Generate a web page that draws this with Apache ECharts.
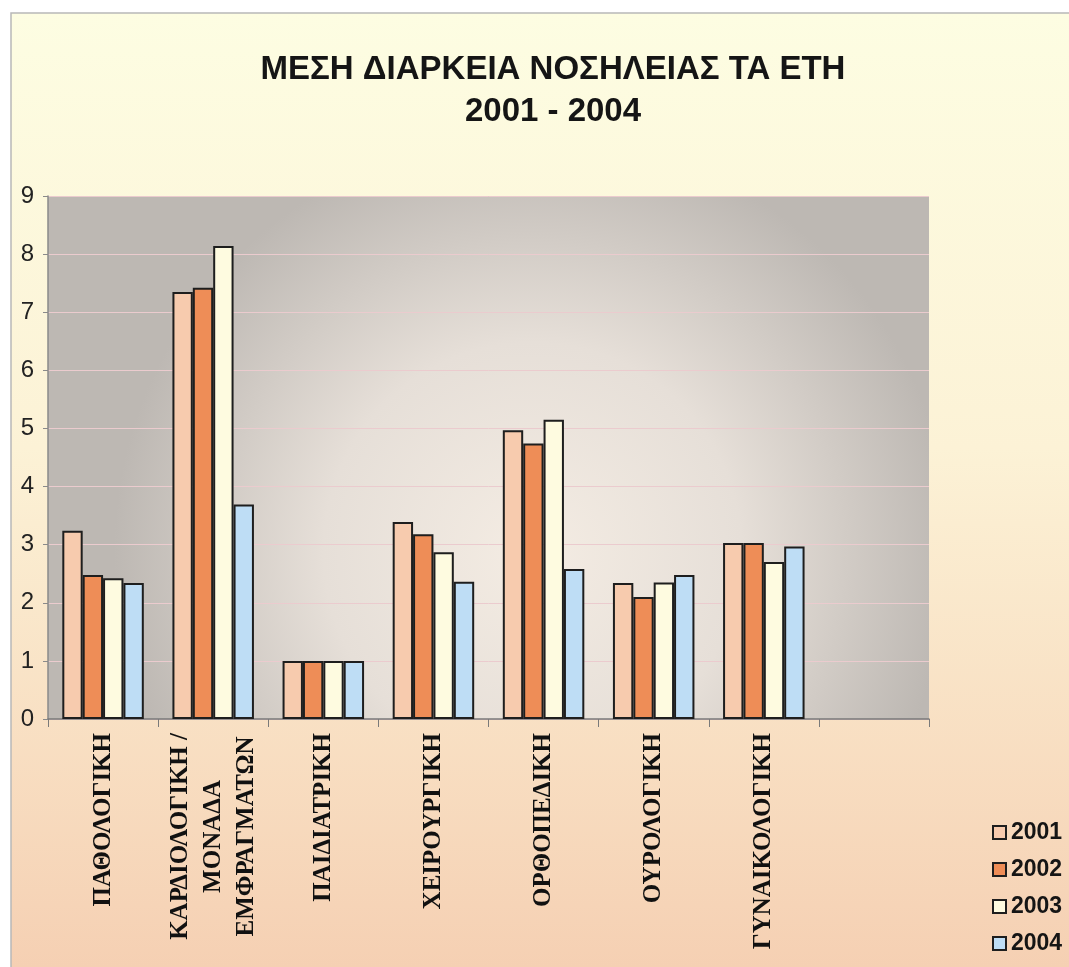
<!DOCTYPE html>
<html>
<head>
<meta charset="utf-8">
<script src="https://cdn.jsdelivr.net/npm/echarts@6/dist/echarts.min.js"></script>
<style>
  html, body { margin: 0; padding: 0; background: #fff; }
  #chart { width: 1069px; height: 967px; }
</style>
</head>
<body>
<div id="chart"></div>
<script>
const categories = ['ΠΑΘΟΛΟΓΙΚΗ', 'ΚΑΡΔΙΟΛΟΓΙΚΗ /\nΜΟΝΑΔΑ\nΕΜΦΡΑΓΜΑΤΩΝ', 'ΠΑΙΔΙΑΤΡΙΚΗ', 'ΧΕΙΡΟΥΡΓΙΚΗ', 'ΟΡΘΟΠΕΔΙΚΗ', 'ΟΥΡΟΛΟΓΙΚΗ', 'ΓΥΝΑΙΚΟΛΟΓΙΚΗ', '']
const years = ['2001', '2002', '2003', '2004']
const values2001 = [3.24, 7.35, 1.0, 3.39, 4.97, 2.34, 3.03, '-']
const values2002 = [2.48, 7.42, 1.0, 3.18, 4.74, 2.10, 3.03, '-']
const values2003 = [2.42, 8.14, 1.0, 2.87, 5.15, 2.35, 2.70, '-']
const values2004 = [2.34, 3.69, 1.0, 2.36, 2.58, 2.48, 2.97, '-']
const yTicks = [0, 1, 2, 3, 4, 5, 6, 7, 8, 9]

const colors = ['#F7CBAE', '#EE8D57', '#FEFBE0', '#BEDDF5']
const seriesValues = [values2001, values2002, values2003, values2004]

const chart = echarts.init(document.getElementById('chart'))

// each line of a category label gets centred inside the rotated block
function labelFormatter(value) {
  return value.split('\n').map(l => '{c|' + l + '}').join('\n')
}

chart.setOption({
  animation: false,
  graphic: [{
    type: 'rect',
    z: -10,
    shape: { x: 11, y: 13, width: 1069, height: 967 },
    style: {
      fill: new echarts.graphic.LinearGradient(0, 0, 0, 1, [
        { offset: 0, color: '#FDFDE2' },
        { offset: 0.45, color: '#FCF2D6' },
        { offset: 1, color: '#F5CFB2' }
      ]),
      stroke: '#B8B8B8',
      lineWidth: 1.5
    }
  }],
  title: {
    text: 'ΜΕΣΗ ΔΙΑΡΚΕΙΑ ΝΟΣΗΛΕΙΑΣ ΤΑ ΕΤΗ\n2001 - 2004',
    left: 548,
    textAlign: 'center',
    top: 44,
    textStyle: {
      fontFamily: 'Liberation Sans',
      fontSize: 33,
      fontWeight: 'bold',
      color: '#151515',
      lineHeight: 42
    }
  },
  legend: {
    orient: 'vertical',
    left: 987,
    top: 816,
    itemWidth: 13,
    itemHeight: 13,
    itemGap: 14,
    itemTextGap: 7,
    icon: 'rect',
    data: years,
    textStyle: {
      fontFamily: 'Liberation Sans',
      fontSize: 23,
      fontWeight: 'bold',
      color: '#151515'
    }
  },
  grid: {
    left: 48,
    right: 140,
    top: 196,
    bottom: 248,
    containLabel: false,
    outerBoundsMode: 'none',
    show: true,
    borderWidth: 0,
    backgroundColor: new echarts.graphic.RadialGradient(0.55, 0.68, 0.8, [
      { offset: 0, color: '#F4ECE3' },
      { offset: 0.5, color: '#E6DFD8' },
      { offset: 1, color: '#BDB8B3' }
    ])
  },
  xAxis: {
    type: 'category',
    data: categories,
    axisLine: { show: true, lineStyle: { color: '#7A7A7A', width: 1.5 } },
    axisTick: { show: true, length: 8, alignWithLabel: false, lineStyle: { color: '#7A7A7A' } },
    axisLabel: {
      interval: 0,
      rotate: 90,
      margin: 14,
      formatter: labelFormatter,
      rich: {
        c: {
          align: 'center',
          fontFamily: 'Liberation Serif',
          fontWeight: 'bold',
          fontSize: 25,
          color: '#111',
          lineHeight: 33
        }
      }
    },
    splitLine: { show: false }
  },
  yAxis: {
    type: 'value',
    min: yTicks[0],
    max: yTicks[yTicks.length - 1],
    interval: 1,
    axisLine: { show: true, lineStyle: { color: '#8A8A8A', width: 1.5 } },
    axisTick: { show: true, length: 5, lineStyle: { color: '#8A8A8A' } },
    axisLabel: {
      margin: 14,
      fontFamily: 'Liberation Sans',
      fontSize: 24,
      color: '#222'
    },
    splitLine: { show: true, lineStyle: { color: '#EBCBCE', width: 1 } }
  },
  series: years.map((y, i) => ({
    name: y,
    type: 'bar',
    data: seriesValues[i],
    barGap: '0%',
    barCategoryGap: '26%',
    itemStyle: {
      color: colors[i],
      borderColor: '#1E1E1E',
      borderWidth: 2
    }
  }))
})
</script>
</body>
</html>
